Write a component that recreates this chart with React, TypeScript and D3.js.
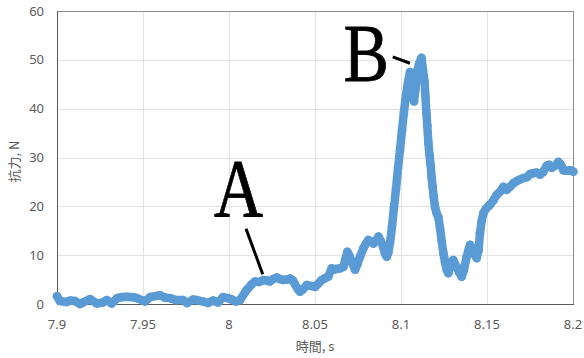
import React from "react";
import * as d3 from "d3";

// Drag force trace: time (s) and force (N)
const times: number[] = [
  7.9, 7.9017, 7.9056, 7.9076, 7.9105, 7.9134, 7.9151, 7.9192, 7.9231, 7.9267,
  7.9289, 7.9318, 7.9349, 7.9376, 7.9407, 7.9442, 7.9465, 7.95, 7.9512, 7.9541,
  7.957, 7.9599, 7.9628, 7.9657, 7.9692, 7.9733, 7.9756, 7.9791, 7.9814, 7.9849,
  7.9878, 7.9907, 7.9936, 7.9965, 7.9994, 8.0017, 8.0041, 8.0064, 8.0103, 8.0128,
  8.0151, 8.0174, 8.0199, 8.0221, 8.0238, 8.0256, 8.0277, 8.0297, 8.0316, 8.0337,
  8.0355, 8.0372, 8.0384, 8.0401, 8.0413, 8.043, 8.0452, 8.0477, 8.05, 8.0517,
  8.0539, 8.0558, 8.0577, 8.0597, 8.061, 8.0626, 8.0645, 8.0665, 8.0677, 8.0688,
  8.0701, 8.0713, 8.0733, 8.0747, 8.0762, 8.0781, 8.0797, 8.081, 8.0826, 8.084,
  8.0855, 8.0869, 8.0884, 8.0897, 8.0907, 8.0917, 8.0926, 8.0936, 8.0948, 8.0959,
  8.0971, 8.0983, 8.0994, 8.1006, 8.1017, 8.1029, 8.1041, 8.1052, 8.1064, 8.1076,
  8.1084, 8.1093, 8.1105, 8.1119, 8.1128, 8.1137, 8.1142, 8.1148, 8.1153, 8.1159,
  8.1166, 8.1172, 8.1178, 8.1184, 8.119, 8.1198, 8.1208, 8.1217, 8.1227, 8.1237,
  8.1246, 8.1256, 8.1266, 8.1275, 8.1285, 8.1297, 8.1304, 8.1314, 8.1326, 8.1337,
  8.1353, 8.1366, 8.1382, 8.1392, 8.1401, 8.1413, 8.1424, 8.144, 8.1451, 8.1459,
  8.1469, 8.1479, 8.1494, 8.1508, 8.1517, 8.1537, 8.1555, 8.1576, 8.1595, 8.1615,
  8.1634, 8.1653, 8.1674, 8.1692, 8.1711, 8.1733, 8.175, 8.1769, 8.1788, 8.1808,
  8.1826, 8.1847, 8.186, 8.1876, 8.1895, 8.1915, 8.193, 8.1944, 8.1965, 8.1983,
  8.2002,
];

const forces: number[] = [
  1.6, 0.6, 0.4, 0.7, 0.6, 0.0, 0.3, 1.0, 0.1, 0.3,
  0.8, 0.1, 1.2, 1.4, 1.5, 1.4, 1.2, 0.7, 0.5, 1.4,
  1.6, 1.8, 1.3, 1.2, 0.8, 0.8, 0.2, 0.9, 0.8, 0.5,
  0.2, 0.7, 0.3, 1.4, 1.2, 0.9, 0.5, 0.8, 2.9, 3.9,
  4.6, 4.5, 4.9, 4.8, 4.6, 5.1, 5.4, 5.1, 4.9, 5.0,
  5.2, 4.8, 4.0, 3.0, 2.5, 3.0, 3.9, 3.7, 3.5, 4.1,
  4.9, 5.3, 5.6, 7.3, 7.0, 7.2, 7.3, 7.6, 9.2, 10.7,
  9.8, 8.7, 7.0, 8.2, 9.7, 11.4, 12.4, 13.1, 12.8, 12.4,
  13.0, 13.8, 12.8, 11.6, 10.3, 9.7, 10.5, 12.5, 16.0, 19.7,
  23.6, 27.9, 31.5, 35.6, 39.3, 42.8, 45.5, 47.5, 45.9, 41.5,
  44.0, 47.5, 49.2, 50.4, 47.9, 45.5, 42.5, 39.0, 36.5, 33.0,
  30.5, 28.5, 26.0, 24.0, 22.0, 19.8, 18.5, 17.8, 15.5, 12.8,
  10.5, 8.5, 7.0, 6.3, 7.5, 8.8, 9.0, 8.2, 7.5, 6.5,
  5.6, 7.0, 9.7, 11.0, 12.1, 11.5, 10.3, 9.4, 11.0, 14.5,
  17.0, 18.6, 19.5, 20.0, 20.3, 21.2, 22.3, 23.0, 24.0, 23.4,
  24.0, 24.7, 25.2, 25.5, 25.8, 26.0, 26.6, 26.8, 26.9, 26.5,
  27.0, 28.3, 28.5, 27.9, 28.3, 29.1, 28.5, 27.4, 27.3, 27.4,
  27.1,
];

const xTicks: number[] = [7.9, 7.95, 8, 8.05, 8.1, 8.15, 8.2];
const yTicks: number[] = [0, 10, 20, 30, 40, 50, 60];

// Labelled points: letter position and pointer segment, in data units
const annoLabels: string[] = ["A", "B"];
const annoText: [number, number][] = [[8.0055, 18.0], [8.0797, 45.7]];
const annoLineFrom: [number, number][] = [[8.0099, 15.4], [8.0952, 50.6]];
const annoLineTo: [number, number][] = [[8.0196, 6.1], [8.1052, 49.3]];

const W = 584;
const H = 358;
const M = { left: 57, right: 11, top: 11, bottom: 54 };

export default function App() {
  const x = d3.scaleLinear().domain([7.9, 8.2]).range([M.left, W - M.right]);
  const y = d3.scaleLinear().domain([0, 60]).range([H - M.bottom, M.top]);
  const pts = times.map((t, i) => [t, forces[i]] as [number, number]);
  const line = d3
    .line<[number, number]>()
    .x((d) => x(d[0]))
    .y((d) => y(d[1]))(pts);

  const crisp = (v: number) => Math.round(v) + 0.5;
  const x0 = x(7.9), x1 = x(8.2), y0 = y(0), y1 = y(60);
  const labelFont = "'Noto Sans', 'Noto Sans CJK JP', sans-serif";
  const titleFont = "'Noto Sans CJK JP', 'Noto Sans', sans-serif";
  const serif = "'Liberation Serif', 'DejaVu Serif', serif";

  return (
    <svg
      width={W}
      height={H}
      style={{ position: "absolute", left: 0, top: 0, background: "#fff" }}
    >
      <rect x={0} y={0} width={W} height={H} fill="#fff" />
      {/* gridlines */}
      {xTicks.slice(1, -1).map((t) => (
        <line key={"gx" + t} x1={crisp(x(t))} x2={crisp(x(t))} y1={y1} y2={y0} stroke="#e3e3e3" strokeWidth={1} />
      ))}
      {yTicks.slice(1, -1).map((v) => (
        <line key={"gy" + v} x1={x0} x2={x1} y1={crisp(y(v))} y2={crisp(y(v))} stroke="#e3e3e3" strokeWidth={1} />
      ))}
      {/* plot frame */}
      <line x1={x0} x2={x1} y1={crisp(y1)} y2={crisp(y1)} stroke="#8c8c8c" strokeWidth={1} />
      <line x1={crisp(x1)} x2={crisp(x1)} y1={y1} y2={y0} stroke="#8c8c8c" strokeWidth={1} />
      <line x1={crisp(x0)} x2={crisp(x0)} y1={y1} y2={y0 + 1} stroke="#595959" strokeWidth={1} />
      <line x1={x0} x2={x1 + 1} y1={crisp(y0)} y2={crisp(y0)} stroke="#595959" strokeWidth={1} />

      {/* data */}
      <path d={line ?? ""} fill="none" stroke="#5b9bd5" strokeWidth={8.5} strokeLinecap="round" strokeLinejoin="round" />
      {pts.map((d, i) => (
        <circle key={i} cx={x(d[0])} cy={y(d[1])} r={4.3} fill="#5b9bd5" />
      ))}

      {/* tick labels */}
      {yTicks.map((v) => (
        <text key={"ty" + v} x={44} y={y(v) + 4.5} textAnchor="end" fontSize={13} fill="#595959" fontFamily={labelFont}>
          {v}
        </text>
      ))}
      {xTicks.map((t) => (
        <text key={"tx" + t} x={x(t)} y={328.5} textAnchor="middle" fontSize={13} fill="#595959" fontFamily={labelFont}>
          {String(t)}
        </text>
      ))}

      {/* axis titles */}
      <text x={(x0 + x1) / 2} y={351} textAnchor="middle" fontSize={13} fill="#595959" fontFamily={titleFont}>
        時間, s
      </text>
      <text
        transform={`translate(19, ${(y0 + y1) / 2 + 4}) rotate(-90)`}
        textAnchor="middle"
        fontSize={13}
        fill="#595959"
        fontFamily={titleFont}
      >
        抗力, N
      </text>

      {/* annotations */}
      {annoLabels.map((s, i) => (
        <g key={s}>
          <line
            x1={x(annoLineFrom[i][0])}
            y1={y(annoLineFrom[i][1])}
            x2={x(annoLineTo[i][0])}
            y2={y(annoLineTo[i][1])}
            stroke="#000"
            strokeWidth={3}
          />
          <text
            transform={`translate(${x(annoText[i][0])}, ${y(annoText[i][1])}) scale(0.82, 1)`}
            textAnchor="middle"
            fontSize={83}
            fill="#000"
            stroke="#000"
            strokeWidth={0.8}
            fontFamily={serif}
          >
            {s}
          </text>
        </g>
      ))}
    </svg>
  );
}
